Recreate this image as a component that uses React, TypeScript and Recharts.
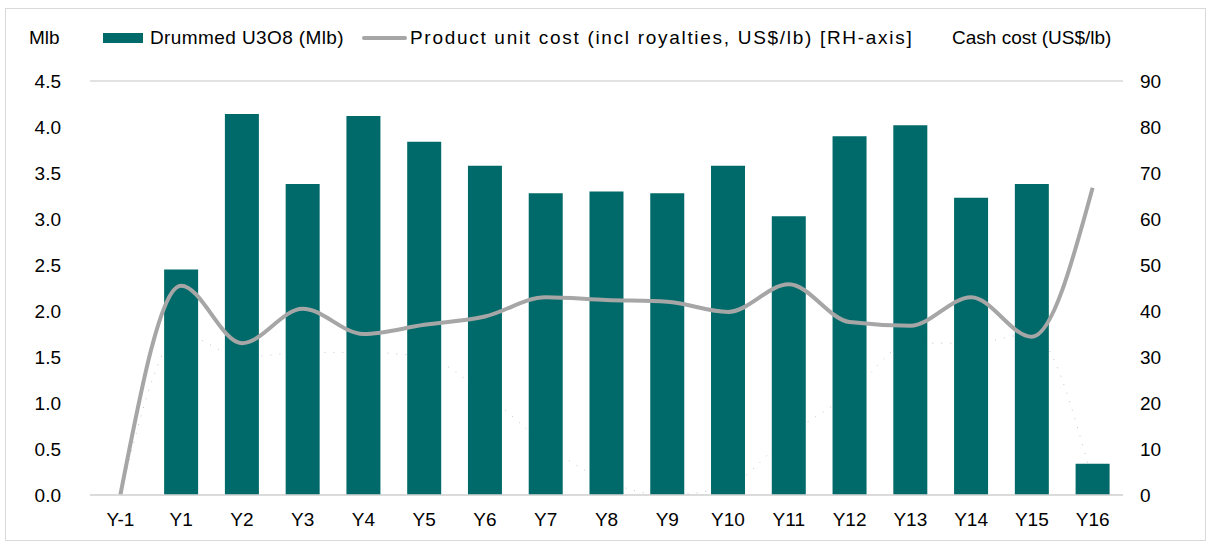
import React from "react";
import { ComposedChart, Bar, Line, XAxis, YAxis, CartesianGrid } from "recharts";

const categories = ["Y-1", "Y1", "Y2", "Y3", "Y4", "Y5", "Y6", "Y7", "Y8", "Y9", "Y10", "Y11", "Y12", "Y13", "Y14", "Y15", "Y16"];
const drummed: (number | null)[] = [null, 2.45, 4.14, 3.38, 4.12, 3.84, 3.58, 3.28, 3.3, 3.28, 3.58, 3.03, 3.9, 4.02, 3.23, 3.38, 0.34];
const unitCost = [0, 45.5, 33, 40.5, 35, 37, 38.8, 43, 42.4, 42, 39.8, 45.8, 37.6, 36.8, 43, 34.4, 66.8];
const cashCost = [0, 35, 30, 31, 31, 30, 22, 11, 3, 0, 2, 13, 22, 33, 33, 35, 3];
const leftTicks = [0, 0.5, 1, 1.5, 2, 2.5, 3, 3.5, 4, 4.5];
const rightTicks = [0, 10, 20, 30, 40, 50, 60, 70, 80, 90];

const data = categories.map((c, i) => ({
  name: c,
  drummed: drummed[i],
  unitCost: unitCost[i],
  cashCost: cashCost[i],
}));

const FONT = "'Liberation Sans', Arial, sans-serif";
const FS = 19;
const TEAL = "#006a6a";
const GRAY = "#a6a6a6";

export default function App() {
  const txt: React.CSSProperties = {
    position: "absolute",
    fontFamily: FONT,
    fontSize: FS,
    color: "#000",
    lineHeight: "20px",
    whiteSpace: "nowrap",
  };
  return (
    <div style={{ position: "absolute", left: 0, top: 0, width: 1210, height: 545, background: "#fff", fontFamily: FONT }}>
      <div style={{ position: "absolute", left: 5, top: 8, width: 1199, height: 531, border: "1px solid #d9d9d9" }} />
      <div style={{ ...txt, left: 29, top: 28 }}>Mlb</div>
      <div style={{ position: "absolute", left: 103, top: 33, width: 40, height: 10, background: TEAL }} />
      <div style={{ ...txt, left: 150, top: 28, letterSpacing: 0.4 }}>Drummed U3O8 (Mlb)</div>
      <div style={{ position: "absolute", left: 362, top: 36, width: 45, height: 4, background: GRAY, borderRadius: 2 }} />
      <div style={{ ...txt, left: 410, top: 28, letterSpacing: 1.7 }}>Product unit cost (incl royalties, US$/lb) [RH-axis]</div>
      <div style={{ ...txt, left: 952, top: 28 }}>Cash cost (US$/lb)</div>
      <ComposedChart
        width={1210}
        height={545}
        data={data}
        margin={{ top: 81, right: 30, bottom: 20, left: 30 }}
        barCategoryGap="22%"
      >
        <CartesianGrid vertical={false} stroke="#d9d9d9" strokeWidth={1.5} />
        <XAxis
          dataKey="name"
          height={30}
          tickLine={false}
          tickSize={0}
          tickMargin={18}
          axisLine={{ stroke: "#d9d9d9", strokeWidth: 1.5 }}
          tick={{ fill: "#000", fontSize: FS, fontFamily: FONT }}
          interval={0}
        />
        <YAxis
          yAxisId="left"
          orientation="left"
          width={60}
          domain={[0, 4.5]}
          ticks={leftTicks}
          tickFormatter={(v: number) => v.toFixed(1)}
          axisLine={false}
          tickLine={false}
          tickSize={0}
          tickMargin={29}
          tick={{ fill: "#000", fontSize: FS, fontFamily: FONT }}
          interval={0}
        />
        <YAxis
          yAxisId="right"
          orientation="right"
          width={57}
          domain={[0, 90]}
          ticks={rightTicks}
          axisLine={false}
          tickLine={false}
          tickSize={0}
          tickMargin={17}
          tick={{ fill: "#000", fontSize: FS, fontFamily: FONT }}
          interval={0}
        />
        <Bar yAxisId="left" dataKey="drummed" fill={TEAL} isAnimationActive={false} />
        <Line
          yAxisId="right"
          dataKey="cashCost"
          type="monotone"
          stroke="#1f3864"
          strokeOpacity={0.3}
          strokeWidth={1}
          strokeDasharray="1 8"
          dot={false}
          activeDot={false}
          isAnimationActive={false}
        />
        <Line
          yAxisId="right"
          dataKey="unitCost"
          type="monotone"
          stroke={GRAY}
          strokeWidth={4}
          dot={false}
          activeDot={false}
          isAnimationActive={false}
        />
      </ComposedChart>
    </div>
  );
}
